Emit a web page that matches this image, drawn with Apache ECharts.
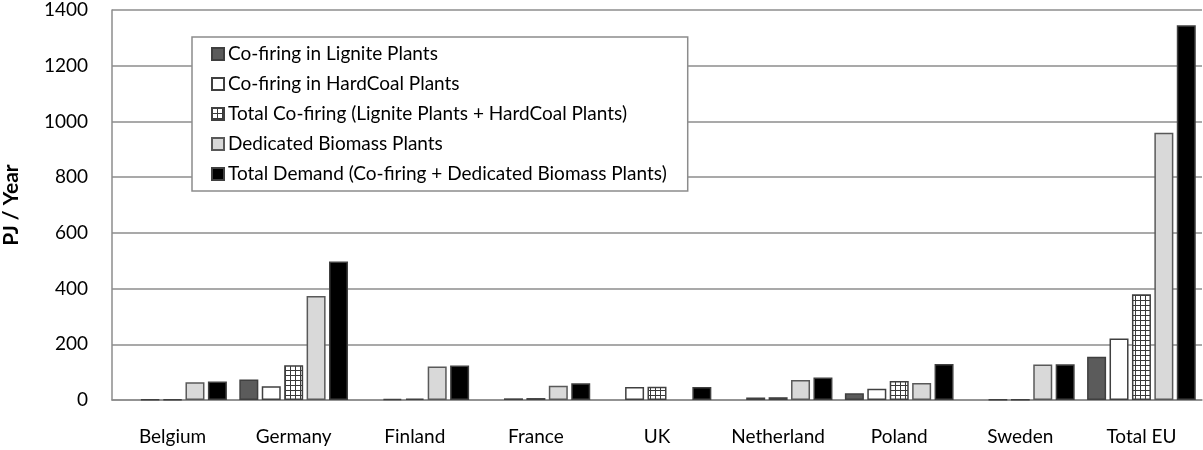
<!DOCTYPE html>
<html>
<head>
<meta charset="utf-8">
<script src="https://cdn.jsdelivr.net/npm/echarts@6/dist/echarts.min.js"></script>
<style>
  html, body { margin: 0; padding: 0; background: #fff; }
  #chart { width: 1203px; height: 450px; }
</style>
</head>
<body>
<div id="chart"></div>
<script>
// Biomass demand by country, PJ per year
const countries = ['Belgium', 'Germany', 'Finland', 'France', 'UK', 'Netherland', 'Poland', 'Sweden', 'Total EU'];
const seriesNames = [
  'Co-firing in Lignite Plants',
  'Co-firing in HardCoal Plants',
  'Total Co-firing (Lignite Plants + HardCoal Plants)',
  'Dedicated Biomass Plants',
  'Total Demand (Co-firing + Dedicated Biomass Plants)'
];
const lignite   = [0, 74, 0, 0, 0, 0, 24, 0, 155];
const hardCoal  = [2, 49, 4, 6, 47, 9, 40, 1, 221];
const coFiring  = [2, 125, 5, 7, 48, 10, 68, 1, 380];
const dedicated = [64, 373, 120, 51, 0, 72, 61, 127, 959];
const total     = [66, 497, 124, 60, 47, 81, 129, 128, 1345];
const yTicks = { min: 0, max: 1400, interval: 200 };

// small grid tile used as the fill of the total co-firing bars
function gridPattern() {
  const c = document.createElement('canvas');
  c.width = 5; c.height = 5;
  const g = c.getContext('2d');
  g.fillStyle = '#ffffff';
  g.fillRect(0, 0, 5, 5);
  g.fillStyle = '#3a3a3a';
  g.fillRect(0, 0, 5, 1);
  g.fillRect(0, 0, 1, 5);
  return c;
}

const FONT = 'Lato';
const styles = [
  { color: '#5b5b5b', borderColor: '#3f3f3f' },
  { color: '#ffffff', borderColor: '#404040' },
  { color: { image: gridPattern(), repeat: 'repeat' }, borderColor: '#404040' },
  { color: '#d9d9d9', borderColor: '#595959' },
  { color: '#000000', borderColor: '#404040' }
];
const values = [lignite, hardCoal, coFiring, dedicated, total];

const chart = echarts.init(document.getElementById('chart'), null, { renderer: 'canvas' });
chart.setOption({
  animation: false,
  backgroundColor: '#ffffff',
  textStyle: { fontFamily: FONT },
  grid: { left: 112, right: 1, top: 10, bottom: 50, containLabel: false, outerBoundsMode: 'none' },
  legend: {
    orient: 'vertical',
    left: 192,
    top: 37,
    backgroundColor: '#ffffff',
    borderColor: '#8c8c8c',
    borderWidth: 1.5,
    padding: [7, 21, 7, 19],
    itemWidth: 12,
    itemHeight: 12,
    itemGap: 10,
    icon: 'rect',
    textStyle: { fontFamily: FONT, fontSize: 19, lineHeight: 20, color: '#000', padding: [0, 0, 0, -1] },
    data: seriesNames
  },
  xAxis: {
    type: 'category',
    data: countries,
    axisLine: { lineStyle: { color: '#8c8c8c', width: 1.5 } },
    axisTick: { show: false },
    axisLabel: { fontFamily: FONT, fontSize: 19, color: '#000', margin: 27, interval: 0 }
  },
  yAxis: {
    type: 'value',
    min: yTicks.min,
    max: yTicks.max,
    interval: yTicks.interval,
    name: 'PJ / Year',
    nameLocation: 'middle',
    nameRotate: 90,
    nameGap: 90,
    nameTextStyle: { fontFamily: FONT, fontSize: 21, fontWeight: 'bold', color: '#000' },
    axisLine: { show: true, lineStyle: { color: '#8c8c8c', width: 1.5 } },
    axisTick: { show: false },
    splitLine: { lineStyle: { color: '#8c8c8c', width: 1.5 } },
    axisLabel: { fontFamily: FONT, fontSize: 19, color: '#000', margin: 24, formatter: v => String(v) }
  },
  series: seriesNames.map((name, i) => ({
    name,
    type: 'bar',
    // zero entries are left empty so no outline is drawn on the baseline
    data: values[i].map(v => (v === 0 ? null : v)),
    barWidth: 19,
    barGap: '18%',
    itemStyle: Object.assign({ borderWidth: 1.5 }, styles[i]),
    emphasis: { disabled: true }
  }))
});
</script>
</body>
</html>
